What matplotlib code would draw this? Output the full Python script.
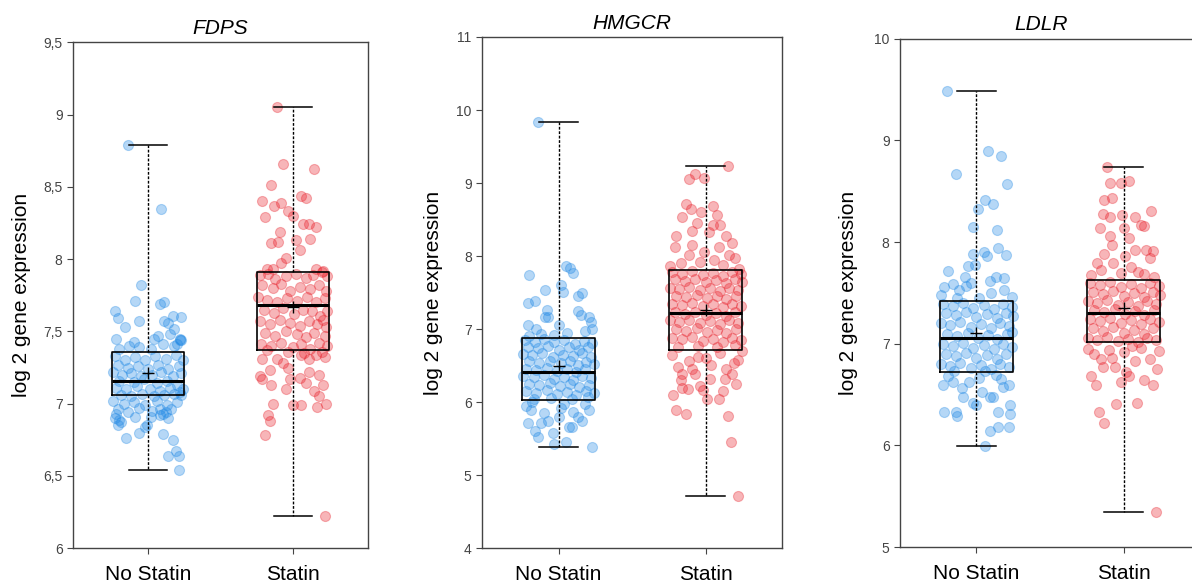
import matplotlib.pyplot as plt
from matplotlib.ticker import FuncFormatter

plt.rcParams['font.family'] = ['Liberation Sans', 'DejaVu Sans']

groups = ['No Statin', 'Statin']
genes = ['FDPS', 'HMGCR', 'LDLR']

# box stats: (whislo, q1, med, mean, q3, whishi)
fdps_box = [(6.54, 7.06, 7.16, 7.21, 7.36, 8.79), (6.22, 7.37, 7.68, 7.67, 7.91, 9.05)]
hmgcr_box = [(5.39, 6.03, 6.42, 6.49, 6.88, 9.83), (4.71, 6.72, 7.22, 7.26, 7.81, 9.24)]
ldlr_box = [(5.99, 6.72, 7.06, 7.11, 7.42, 9.49), (5.35, 7.02, 7.30, 7.35, 7.63, 8.74)]

fdps_ylim = (6, 9.5)
hmgcr_ylim = (4, 11)
ldlr_ylim = (5, 10)
fdps_ticks = [6, 6.5, 7, 7.5, 8, 8.5, 9, 9.5]
hmgcr_ticks = [4, 5, 6, 7, 8, 9, 10, 11]
ldlr_ticks = [5, 6, 7, 8, 9, 10]

# points: (jitter offset from group centre, value)
fdps_no = [(-0.14, 8.79), (0.09, 8.35), (-0.05, 7.82), (-0.09, 7.71), (0.08, 7.69), (0.11, 7.70),
           (-0.23, 7.64), (-0.21, 7.59), (0.23, 7.60), (0.17, 7.61), (-0.16, 7.53), (-0.06, 7.57),
           (0.11, 7.57), (0.18, 7.52), (0.14, 7.56), (-0.22, 7.45), (0.22, 7.45), (0.04, 7.45),
           (0.22, 7.44), (-0.10, 7.43), (0.07, 7.47), (0.15, 7.48), (0.20, 7.41),
           (-0.01, 6.85), (-0.21, 6.85), (-0.15, 6.76), (-0.06, 6.80), (0.10, 6.79), (0.17, 6.75),
           (0.14, 6.64), (0.19, 6.67), (0.21, 6.64), (0.21, 6.54), (-0.02, 6.84), (-0.20, 6.89),
           (-0.22, 6.93), (0.12, 6.94), (0.08, 6.96), (0.02, 6.91),
           (-0.20, 7.38), (-0.13, 7.40), (-0.06, 7.39), (0.02, 7.38), (0.10, 7.41), (0.18, 7.40), (0.23, 7.44),
           (-0.23, 7.33), (-0.16, 7.30), (-0.09, 7.32), (-0.02, 7.30), (0.05, 7.33), (0.12, 7.31), (0.19, 7.34),
           (0.24, 7.30), (-0.21, 7.27), (-0.14, 7.25), (-0.07, 7.26), (0.00, 7.24), (0.07, 7.27), (0.14, 7.24),
           (0.21, 7.26), (-0.24, 7.22), (-0.18, 7.20), (-0.12, 7.21), (-0.05, 7.19), (0.03, 7.20), (0.09, 7.22),
           (0.17, 7.19), (0.23, 7.21), (-0.20, 7.16), (-0.10, 7.15), (-0.03, 7.17), (0.06, 7.14), (0.13, 7.16),
           (0.20, 7.13), (-0.22, 7.11), (-0.15, 7.10), (-0.08, 7.12), (0.01, 7.10), (0.08, 7.09), (0.15, 7.11),
           (0.22, 7.08), (0.24, 7.10), (-0.19, 7.06), (-0.12, 7.05), (-0.04, 7.07), (0.04, 7.05), (0.11, 7.06),
           (0.18, 7.07), (0.23, 7.06), (-0.24, 7.02), (-0.17, 7.00), (-0.10, 7.01), (-0.02, 6.99), (0.06, 7.02),
           (0.13, 6.99), (0.20, 7.01), (-0.21, 6.96), (-0.14, 6.94), (-0.06, 6.97), (0.03, 6.95), (0.10, 6.93),
           (0.16, 6.96), (-0.23, 6.90), (-0.19, 6.87), (-0.09, 6.91), (0.08, 6.92), (0.14, 6.90)]

fdps_st = [(-0.11, 9.05), (-0.07, 8.66), (0.15, 8.62), (-0.15, 8.51), (-0.21, 8.40), (-0.13, 8.37),
           (-0.08, 8.39), (0.06, 8.44), (0.09, 8.42), (-0.19, 8.29), (-0.03, 8.33), (0.00, 8.30),
           (0.07, 8.24), (0.11, 8.24), (0.16, 8.22), (-0.09, 8.19), (0.12, 8.14), (-0.15, 8.11),
           (-0.10, 8.12), (0.02, 8.13), (0.05, 8.06), (-0.18, 7.93), (-0.08, 7.97), (0.21, 7.92),
           (-0.05, 8.01), (0.16, 7.93), (-0.14, 7.93),
           (-0.21, 7.17), (-0.15, 7.13), (-0.05, 7.10), (0.15, 7.09), (0.18, 7.05), (0.21, 7.13),
           (0.00, 6.99), (0.06, 6.99), (0.17, 6.98), (-0.14, 7.00), (-0.17, 6.92), (-0.16, 6.88),
           (-0.19, 6.78), (0.09, 7.14), (-0.11, 7.31), (-0.21, 7.31), (-0.16, 7.23), (-0.07, 7.28),
           (-0.03, 7.25), (0.06, 7.34), (0.11, 7.31), (0.16, 7.34), (0.22, 7.32), (0.11, 7.22),
           (0.05, 7.18), (0.18, 7.20), (-0.23, 7.19), (-0.02, 7.17), (0.23, 7.00), (0.22, 6.22),
           (-0.23, 7.89), (-0.17, 7.90), (-0.12, 7.86), (-0.05, 7.88), (0.02, 7.90), (0.09, 7.87), (0.14, 7.89),
           (0.20, 7.91), (0.24, 7.88), (-0.21, 7.82), (-0.14, 7.80), (-0.08, 7.83), (-0.02, 7.78), (0.05, 7.81),
           (0.12, 7.79), (0.18, 7.82), (0.23, 7.78), (-0.24, 7.74), (-0.18, 7.72), (-0.11, 7.70), (-0.04, 7.73),
           (0.03, 7.71), (0.10, 7.74), (0.16, 7.70), (0.22, 7.73), (-0.20, 7.65), (-0.13, 7.63), (-0.07, 7.66),
           (0.01, 7.62), (0.07, 7.65), (0.13, 7.64), (0.19, 7.61), (0.24, 7.64), (-0.23, 7.57), (-0.16, 7.55),
           (-0.09, 7.58), (-0.02, 7.56), (0.05, 7.54), (0.11, 7.57), (0.17, 7.55), (0.21, 7.58), (0.23, 7.53),
           (-0.19, 7.49), (-0.12, 7.47), (-0.05, 7.50), (0.03, 7.48), (0.09, 7.46), (0.15, 7.49), (0.22, 7.47),
           (-0.22, 7.41), (-0.15, 7.40), (-0.08, 7.42), (0.00, 7.39), (0.06, 7.41), (0.12, 7.38), (0.18, 7.42),
           (0.24, 7.40), (-0.18, 7.37), (-0.03, 7.36), (0.08, 7.35), (0.20, 7.36)]

hmgcr_no = [(-0.14, 9.83), (-0.20, 7.74), (-0.21, 7.36), (-0.16, 7.38), (-0.09, 7.54), (0.05, 7.86),
            (0.08, 7.84), (0.10, 7.77), (0.02, 7.61), (0.03, 7.51), (0.13, 7.45), (0.16, 7.49),
            (-0.08, 7.26), (-0.09, 7.17), (-0.07, 7.17), (0.13, 7.25), (0.15, 7.20), (0.21, 7.17),
            (0.22, 7.10), (0.23, 7.00), (-0.21, 7.05), (-0.20, 6.91), (0.00, 7.05), (-0.15, 7.00),
            (0.06, 6.95), (-0.03, 6.92), (0.18, 6.98), (-0.12, 6.93),
            (-0.19, 5.89), (-0.21, 5.71), (-0.16, 5.61), (-0.14, 5.53), (-0.12, 5.71), (-0.07, 5.74),
            (-0.04, 5.58), (0.05, 5.45), (0.09, 5.66), (0.10, 5.86), (0.16, 5.74), (0.21, 5.89),
            (0.02, 5.92), (0.07, 5.66), (-0.03, 5.43), (0.23, 5.39), (-0.22, 5.95), (0.13, 5.80),
            (-0.10, 5.85), (0.00, 5.80), (0.18, 5.98), (-0.18, 6.00), (0.04, 5.98),
            (-0.23, 6.85), (-0.16, 6.83), (-0.10, 6.86), (-0.03, 6.82), (0.04, 6.85), (0.11, 6.80), (0.17, 6.84),
            (0.23, 6.81), (-0.21, 6.76), (-0.14, 6.74), (-0.07, 6.77), (0.00, 6.72), (0.07, 6.75), (0.14, 6.71),
            (0.20, 6.76), (-0.24, 6.66), (-0.18, 6.64), (-0.11, 6.67), (-0.04, 6.62), (0.03, 6.65), (0.10, 6.63),
            (0.16, 6.68), (0.22, 6.62), (-0.20, 6.56), (-0.13, 6.54), (-0.06, 6.57), (0.02, 6.53), (0.08, 6.56),
            (0.13, 6.51), (0.19, 6.55), (0.24, 6.52), (-0.22, 6.46), (-0.15, 6.44), (-0.08, 6.47), (-0.01, 6.43),
            (0.06, 6.46), (0.12, 6.41), (0.18, 6.45), (-0.24, 6.36), (-0.17, 6.34), (-0.10, 6.37), (-0.03, 6.32),
            (0.04, 6.35), (0.10, 6.31), (0.16, 6.36), (0.22, 6.33), (-0.20, 6.25), (-0.13, 6.23), (-0.06, 6.26),
            (0.01, 6.22), (0.08, 6.25), (0.14, 6.21), (0.21, 6.24), (-0.22, 6.15), (-0.15, 6.12), (-0.08, 6.16),
            (-0.01, 6.11), (0.06, 6.14), (0.12, 6.10), (0.19, 6.15), (0.24, 6.12), (-0.17, 6.05), (-0.05, 6.06),
            (0.09, 6.04), (0.20, 6.07)]

hmgcr_st = [(0.15, 9.24), (-0.11, 9.06), (-0.07, 9.13), (-0.01, 9.07), (-0.13, 8.71), (-0.10, 8.64),
            (-0.16, 8.53), (-0.03, 8.61), (0.05, 8.69), (0.08, 8.56), (0.10, 8.43), (0.05, 8.43),
            (0.02, 8.33), (0.18, 8.18), (-0.09, 8.35), (-0.09, 8.15), (-0.11, 8.02), (-0.20, 8.28),
            (-0.21, 8.12), (-0.01, 8.05), (0.09, 8.12), (0.16, 8.02), (0.20, 7.97), (0.23, 7.83),
            (-0.04, 7.92), (0.12, 7.88), (-0.17, 7.90), (-0.24, 7.86), (0.06, 7.95), (-0.06, 8.45), (0.14, 8.27),
            (-0.22, 6.10), (-0.20, 5.89), (-0.13, 5.84), (-0.17, 6.30), (-0.16, 6.20), (-0.04, 6.22),
            (-0.02, 6.17), (0.01, 6.05), (0.09, 6.05), (0.15, 5.81), (0.17, 5.45), (0.03, 6.32),
            (0.13, 6.32), (0.21, 6.25), (0.18, 6.38), (-0.09, 6.45), (-0.07, 6.38), (-0.16, 6.38),
            (-0.11, 6.56), (0.04, 6.51), (0.19, 6.53), (0.22, 6.58), (0.22, 4.71), (-0.23, 6.65),
            (-0.05, 6.62), (0.10, 6.68), (0.25, 6.70), (-0.19, 6.48), (0.00, 6.60), (0.14, 6.45),
            (-0.12, 6.18), (0.12, 6.15),
            (-0.23, 7.78), (-0.16, 7.76), (-0.09, 7.79), (-0.02, 7.74), (0.05, 7.77), (0.12, 7.73), (0.18, 7.78),
            (0.24, 7.75), (-0.21, 7.68), (-0.14, 7.66), (-0.07, 7.69), (0.00, 7.64), (0.07, 7.67), (0.14, 7.63),
            (0.20, 7.68), (0.25, 7.65), (-0.24, 7.57), (-0.18, 7.55), (-0.11, 7.58), (-0.04, 7.53), (0.03, 7.56),
            (0.10, 7.52), (0.16, 7.57), (0.22, 7.54), (-0.20, 7.46), (-0.13, 7.44), (-0.06, 7.47), (0.01, 7.42),
            (0.08, 7.45), (0.14, 7.41), (0.21, 7.46), (-0.23, 7.35), (-0.16, 7.33), (-0.09, 7.36), (-0.02, 7.31),
            (0.05, 7.34), (0.12, 7.30), (0.18, 7.35), (0.24, 7.32), (-0.21, 7.23), (-0.14, 7.21), (-0.07, 7.24),
            (0.00, 7.19), (0.07, 7.22), (0.14, 7.18), (0.20, 7.23), (-0.24, 7.12), (-0.18, 7.10), (-0.11, 7.13),
            (-0.04, 7.08), (0.03, 7.11), (0.10, 7.07), (0.16, 7.12), (0.22, 7.09), (-0.20, 7.00), (-0.13, 6.98),
            (-0.06, 7.01), (0.01, 6.96), (0.08, 6.99), (0.14, 6.95), (0.21, 7.00), (-0.23, 6.88), (-0.16, 6.86),
            (-0.09, 6.89), (-0.02, 6.84), (0.05, 6.87), (0.12, 6.83), (0.18, 6.88), (0.24, 6.85), (-0.19, 6.76),
            (-0.05, 6.77), (0.08, 6.75), (0.20, 6.78)]

ldlr_no = [(-0.20, 9.49), (-0.14, 8.67), (0.08, 8.90), (0.17, 8.85), (0.21, 8.57), (0.06, 8.41),
           (0.11, 8.37), (0.01, 8.33), (-0.02, 8.15), (0.14, 8.12), (0.15, 7.94), (0.05, 7.90),
           (0.07, 7.86), (0.20, 7.87), (-0.02, 7.88), (-0.01, 7.77), (-0.06, 7.76), (-0.19, 7.72),
           (-0.22, 7.56), (-0.16, 7.59), (-0.08, 7.66), (-0.07, 7.57), (0.09, 7.62), (0.13, 7.66),
           (0.19, 7.65), (0.19, 7.53), (-0.12, 7.53), (-0.24, 7.48), (0.02, 7.45), (0.24, 7.46),
           (-0.13, 7.45), (0.10, 7.50), (-0.04, 7.60),
           (-0.22, 6.33), (-0.14, 6.33), (-0.13, 6.29), (0.00, 6.40), (0.09, 6.14), (0.15, 6.18),
           (0.22, 6.18), (0.15, 6.33), (0.23, 6.40), (0.23, 6.31), (-0.09, 6.48), (0.09, 6.48),
           (0.04, 6.53), (0.11, 6.48), (0.18, 6.57), (-0.23, 6.59), (-0.16, 6.62), (-0.05, 6.62),
           (0.22, 6.59), (0.06, 5.99), (-0.02, 6.42), (0.02, 6.66), (-0.19, 6.68), (0.13, 6.69),
           (-0.10, 6.56), (0.17, 6.65),
           (-0.23, 7.39), (-0.16, 7.37), (-0.09, 7.40), (-0.02, 7.35), (0.05, 7.38), (0.12, 7.34), (0.18, 7.39),
           (0.24, 7.36), (-0.21, 7.30), (-0.14, 7.28), (-0.07, 7.31), (0.00, 7.26), (0.07, 7.29), (0.14, 7.25),
           (0.20, 7.30), (0.25, 7.27), (-0.24, 7.20), (-0.18, 7.18), (-0.11, 7.21), (-0.04, 7.16), (0.03, 7.19),
           (0.10, 7.15), (0.16, 7.20), (0.22, 7.17), (-0.20, 7.10), (-0.13, 7.08), (-0.06, 7.11), (0.01, 7.06),
           (0.08, 7.09), (0.14, 7.05), (0.21, 7.10), (0.24, 7.12), (-0.23, 7.00), (-0.16, 6.98), (-0.09, 7.01),
           (-0.02, 6.96), (0.05, 6.99), (0.12, 6.95), (0.18, 7.00), (0.24, 6.97), (-0.21, 6.90), (-0.14, 6.88),
           (-0.07, 6.91), (0.00, 6.86), (0.07, 6.89), (0.14, 6.85), (0.20, 6.90), (-0.24, 6.80), (-0.18, 6.78),
           (-0.11, 6.81), (-0.04, 6.76), (0.03, 6.79), (0.10, 6.75), (0.16, 6.80), (0.22, 6.77), (-0.15, 6.73),
           (0.06, 6.73)]

ldlr_st = [(-0.11, 8.74), (-0.09, 8.58), (-0.02, 8.58), (0.04, 8.60), (-0.13, 8.41), (-0.08, 8.43),
           (-0.14, 8.28), (-0.09, 8.25), (-0.01, 8.27), (0.08, 8.25), (0.19, 8.31), (0.12, 8.17),
           (0.14, 8.16), (-0.16, 8.14), (-0.09, 8.06), (-0.08, 7.97), (0.00, 8.14), (0.04, 8.04),
           (0.08, 7.92), (0.15, 7.92), (0.18, 7.84), (0.20, 7.91), (0.01, 7.86), (-0.13, 7.88),
           (-0.18, 7.79), (-0.15, 7.73), (-0.07, 7.79), (0.05, 7.75), (0.10, 7.71), (0.14, 7.69),
           (0.21, 7.66), (-0.22, 7.68), (-0.02, 7.70),
           (-0.22, 6.68), (-0.19, 6.59), (-0.17, 6.33), (-0.13, 6.22), (-0.05, 6.41), (0.09, 6.42),
           (0.04, 6.68), (-0.06, 6.77), (-0.02, 6.62), (0.14, 6.64), (0.20, 6.59), (0.23, 6.75),
           (-0.14, 6.77), (-0.15, 6.85), (-0.08, 6.86), (0.02, 6.72), (0.08, 6.83), (0.18, 6.85),
           (0.22, 5.35), (-0.24, 6.95), (-0.10, 6.94), (0.00, 6.92), (0.12, 6.96), (0.24, 6.93),
           (-0.20, 6.90), (0.06, 6.98),
           (-0.23, 7.60), (-0.16, 7.58), (-0.09, 7.61), (-0.02, 7.56), (0.05, 7.59), (0.12, 7.55), (0.18, 7.60),
           (0.24, 7.57), (-0.21, 7.51), (-0.14, 7.49), (-0.07, 7.52), (0.00, 7.47), (0.07, 7.50), (0.14, 7.46),
           (0.20, 7.51), (0.25, 7.48), (-0.24, 7.42), (-0.18, 7.40), (-0.11, 7.43), (-0.04, 7.38), (0.03, 7.41),
           (0.10, 7.37), (0.16, 7.42), (0.22, 7.39), (-0.20, 7.33), (-0.13, 7.31), (-0.06, 7.34), (0.01, 7.29),
           (0.08, 7.32), (0.14, 7.28), (0.21, 7.33), (-0.23, 7.24), (-0.16, 7.22), (-0.09, 7.25), (-0.02, 7.20),
           (0.05, 7.23), (0.12, 7.19), (0.18, 7.24), (0.24, 7.21), (-0.21, 7.15), (-0.14, 7.13), (-0.07, 7.16),
           (0.00, 7.11), (0.07, 7.14), (0.14, 7.10), (0.20, 7.15), (-0.24, 7.06), (-0.18, 7.04), (-0.11, 7.07),
           (-0.04, 7.03), (0.03, 7.05), (0.10, 7.02), (0.16, 7.06), (0.22, 7.04)]

colors = ['#1f88e5', '#e8202a']

panels = [
    ('FDPS', fdps_no, fdps_st, fdps_box, fdps_ylim, fdps_ticks, [0.0612, 0.066, 0.2475, 0.862], -0.142, 0.5),
    ('HMGCR', hmgcr_no, hmgcr_st, hmgcr_box, hmgcr_ylim, hmgcr_ticks, [0.4044, 0.066, 0.2517, 0.871], -0.13, 0.5),
    ('LDLR', ldlr_no, ldlr_st, ldlr_box, ldlr_ylim, ldlr_ticks, [0.755, 0.068, 0.2517, 0.866], -0.14, 0.47),
]

fig = plt.figure(figsize=(11.92, 5.87), dpi=100)

for name, no_pts, st_pts, box, ylim, ticks, rect, ylab_x, title_x in panels:
    ax = fig.add_axes(rect)
    for i, pts in enumerate([no_pts, st_pts]):
        xs = [i + 1 + p[0] for p in pts]
        ys = [p[1] for p in pts]
        ax.scatter(xs, ys, s=52, color=colors[i], alpha=0.33, linewidths=0.8, zorder=1)
    stats = []
    for b in box:
        stats.append({'whislo': b[0], 'q1': b[1], 'med': b[2], 'mean': b[3], 'q3': b[4],
                      'whishi': b[5], 'fliers': []})
    ax.bxp(stats, positions=[1, 2], widths=0.5, capwidths=0.26, showmeans=True,
           boxprops=dict(color='black', linewidth=1.2),
           medianprops=dict(color='black', linewidth=2.2),
           whiskerprops=dict(color='black', linewidth=1.0, linestyle=(0, (2, 1.2))),
           capprops=dict(color='black', linewidth=1.1),
           meanprops=dict(marker='+', markeredgecolor='black', markersize=8, markeredgewidth=1.0),
           manage_ticks=False, zorder=3)
    ax.set_xlim(0.48, 2.52)
    ax.set_ylim(*ylim)
    ax.set_yticks(ticks)
    ax.yaxis.set_major_formatter(FuncFormatter(lambda v, p: f'{v:g}'.replace('.', ',')))
    ax.set_xticks([1, 2])
    ax.set_xticklabels(groups, fontsize=15)
    ax.tick_params(axis='y', labelsize=10, labelcolor='#444444', length=4, color='#444444')
    ax.tick_params(axis='x', length=4, color='#444444', pad=8)
    for sp in ax.spines.values():
        sp.set_color('#444444')
        sp.set_linewidth(1.0)
    ax.set_ylabel('log 2 gene expression', fontsize=15)
    ax.yaxis.set_label_coords(ylab_x, 0.5)
    ax.set_title(name, fontsize=15, fontstyle='italic', x=title_x, pad=6)

fig.savefig('out.png', dpi=100)
